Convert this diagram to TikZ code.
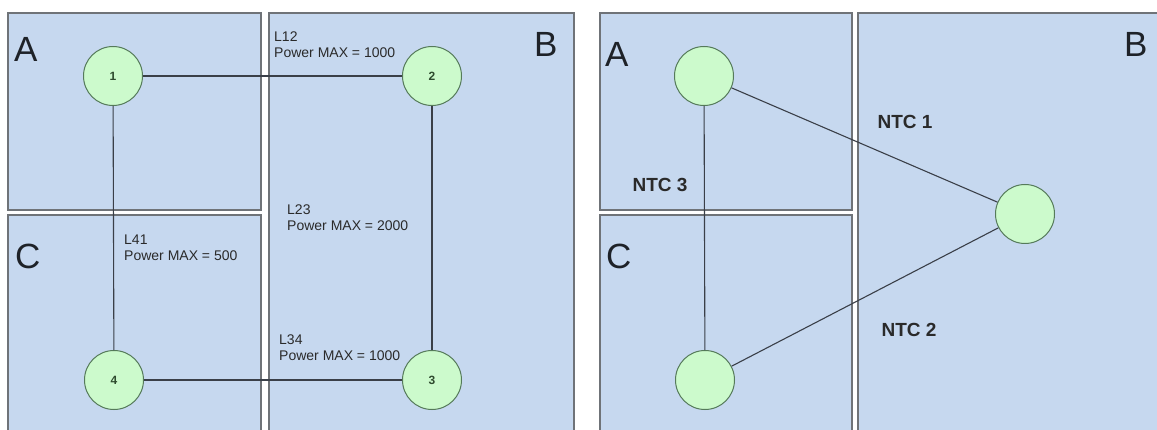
\documentclass[tikz,border=0pt]{standalone}
\usepackage{fontspec}
\setmainfont{Liberation Sans}
\begin{document}
\begin{tikzpicture}[x=1pt,y=-1pt,
  region/.style={draw=regionedge,fill=regionfill,line width=1.6pt},
  bus/.style={circle,draw=busedge,fill=busfill,line width=1pt,minimum size=59pt,inner sep=0pt,font=\fontsize{12}{12}\selectfont\bfseries,text=numtext},
  link/.style={draw=linkcol,line width=1.1pt},
  lbl/.style={anchor=north west,inner sep=0pt,align=left,text=lbltext,font=\fontsize{14}{16}\selectfont},
  ntc/.style={inner sep=0pt,text=lbltext,font=\fontsize{19}{19}\selectfont\bfseries},
  zone/.style={inner sep=0pt,text=zonetext,font=\fontsize{35}{35}\selectfont}
]
\definecolor{regionfill}{HTML}{C6D8EF}
\definecolor{regionedge}{HTML}{6F7378}
\definecolor{busfill}{HTML}{CCFACC}
\definecolor{busedge}{HTML}{557A5A}
\definecolor{linkcol}{HTML}{3A3F48}
\definecolor{lbltext}{HTML}{2A2A2A}
\definecolor{numtext}{HTML}{2E4A2E}
\definecolor{zonetext}{HTML}{1E2228}
\useasboundingbox (0,0) rectangle (1157,430);
\begin{scope}
\clip (0,0) rectangle (1157,430);
% left diagram regions
\draw[region] (8,13) rectangle (261,210);
\draw[region] (8,215) rectangle (261,440);
\draw[region] (269,13) rectangle (574,440);
% right diagram regions
\draw[region] (600,13) rectangle (852,210);
\draw[region] (600,215) rectangle (852,440);
\draw[region] (858,13) rectangle (1170,440);
\end{scope}
% zone letters
\node[zone,anchor=north west] (zA1) at (14,37) {A};
\node[zone,anchor=north west] (zB1) at (534,32) {B};
\node[zone,anchor=north west] (zC1) at (15,244) {C};
\node[zone,anchor=north west] (zA2) at (605,42) {A};
\node[zone,anchor=north west] (zB2) at (1124,32) {B};
\node[zone,anchor=north west] (zC2) at (606,244) {C};
% left buses
\node[bus] (n1) at (113,76) {1};
\node[bus] (n2) at (432,76) {2};
\node[bus] (n3) at (432,380) {3};
\node[bus] (n4) at (114,380) {4};
\draw[link] (n1) -- (n2);
\draw[link] (n2) -- (n3);
\draw[link] (n3) -- (n4);
\draw[link] (n4) -- (n1);
\node[lbl] (l12) at (274,32) {L12\\Power MAX = 1000};
\node[lbl] (l23) at (287,205) {L23\\Power MAX = 2000};
\node[lbl] (l41) at (124,235) {L41\\Power MAX = 500};
\node[lbl] (l34) at (279,335) {L34\\Power MAX = 1000};
% right buses
\node[bus] (ra) at (704,76) {};
\node[bus] (rb) at (1025,214) {};
\node[bus] (rc) at (705,380) {};
\draw[link] (ra) -- (rb);
\draw[link] (rc) -- (rb);
\draw[link] (ra) -- (rc);
\node[ntc] (ntc1) at (905,122) {NTC 1};
\node[ntc] (ntc2) at (909,330) {NTC 2};
\node[ntc] (ntc3) at (660,185) {NTC 3};
\end{tikzpicture}
\end{document}
